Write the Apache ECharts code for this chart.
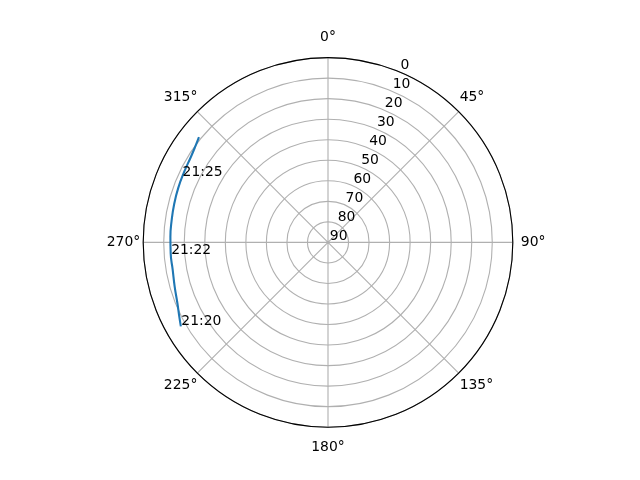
<!DOCTYPE html>
<html>
<head>
<meta charset="utf-8">
<script src="https://cdn.jsdelivr.net/npm/echarts@6/dist/echarts.min.js"></script>
<style>
html,body{margin:0;padding:0;background:#fff;}
#main{width:640px;height:480px;}
</style>
</head>
<body>
<div id="main"></div>
<script>
// satellite track: azimuth (deg, clockwise from north) and elevation (deg)
var trackAz = [240.3, 244, 248, 254, 260, 266, 272, 278, 284, 290, 296, 302, 306, 309.2];
var trackEl = [7.5, 9.3, 10.9, 12.3, 13.2, 13.2, 13.2, 13.1, 12.8, 12.4, 12.0, 11.3, 10.2, 8.9];

// time stamps written along the track
var stampTimes = ['21:20', '21:22', '21:25'];
var stampAz = [240.3, 265.3, 294];
var stampEl = [7.5, 13.1, 12.2];

var angleTicks = 45;    // degrees between spokes
var elevTicks = 10;     // degrees between rings

var FONT = 'DejaVu Sans';
var GRID = '#b0b0b0';

var trackData = [];
for (var i = 0; i < trackAz.length; i++) {
	trackData.push([trackEl[i], trackAz[i]]);
}
var stampData = [];
for (var j = 0; j < stampTimes.length; j++) {
	stampData.push({name: stampTimes[j], value: [stampEl[j], stampAz[j]]});
}

// echarts anchors the angle labels by their near edge, matplotlib by the centre:
// pad the near side so every label centre sits at the same distance
function angleLabel(v) {
	var a = Math.round(v) % 360;
	var style = {0: 'n', 45: 'ne', 90: 'e', 135: 'se', 180: 's', 225: 'sw', 270: 'w', 315: 'nw'}[a] || 'w';
	return '{' + style + '|' + a + '°}';
}
var lblBase = {color: '#000', fontSize: 13.9, fontFamily: FONT};
function lbl(pad) { return Object.assign({padding: pad}, lblBase); }

var myChart = echarts.init(document.getElementById('main'));
var option = {
	backgroundColor: '#fff',
	animation: false,
	textStyle: {fontFamily: FONT},
	polar: [
		{center: [328, 242.4], radius: 184.8},
		{center: [328, 242.4], radius: 184.8}
	],
	angleAxis: [
		{
			polarIndex: 0,
			type: 'value',
			min: 0, max: 360, interval: angleTicks,
			startAngle: 90, clockwise: true,
			axisLine: {lineStyle: {color: '#000', width: 1.1}},
			axisTick: {show: false},
			splitLine: {show: true, lineStyle: {color: GRID, width: 1.1}},
			axisLabel: {
				margin: 0,
				color: '#000', fontSize: 13.9, fontFamily: FONT,
				formatter: angleLabel,
				rich: {
					n: lbl([0, 0, 13, 0]),
					s: lbl([13, 0, 0, 0]),
					e: lbl([0, 0, 0, 8]),
					w: lbl([0, 3, 0, 0]),
					ne: lbl([0, 0, 7, 1]),
					nw: lbl([0, 0, 7, 0]),
					se: lbl([5, 0, 0, 1]),
					sw: lbl([5, 0, 0, 0])
				}
			}
		},
		{
			// only used to place the elevation labels at 22.5deg
			polarIndex: 1,
			type: 'value',
			min: 0, max: 360,
			startAngle: 67.5, clockwise: true,
			axisLine: {show: false}, axisTick: {show: false},
			splitLine: {show: false}, axisLabel: {show: false}
		}
	],
	radiusAxis: [
		{
			polarIndex: 0,
			type: 'value',
			inverse: true,
			min: 0, max: 90, interval: elevTicks,
			axisLine: {show: false}, axisTick: {show: false},
			axisLabel: {show: false},
			splitLine: {show: true, lineStyle: {color: GRID, width: 1.1}}
		},
		{
			polarIndex: 1,
			type: 'value',
			inverse: true,
			min: 0, max: 90, interval: elevTicks,
			axisLine: {show: false}, axisTick: {show: false},
			splitLine: {show: false},
			axisLabel: {
				margin: -2, align: 'left', verticalAlign: 'bottom',
				color: '#000', fontSize: 13.9, fontFamily: FONT,
				showMinLabel: true, showMaxLabel: true
			}
		}
	],
	series: [
		{
			type: 'line',
			coordinateSystem: 'polar',
			polarIndex: 0,
			data: trackData,
			smooth: true,
			showSymbol: false,
			lineStyle: {color: '#1f77b4', width: 2.1},
			z: 5
		},
		{
			type: 'scatter',
			coordinateSystem: 'polar',
			polarIndex: 0,
			data: stampData,
			symbolSize: 1,
			itemStyle: {color: 'rgba(0,0,0,0)', opacity: 1},
			label: {
				show: true, position: 'right', distance: 0, offset: [0, -5],
				color: '#000', fontSize: 13.9, fontFamily: FONT,
				formatter: '{b}'
			},
			z: 6
		}
	]
};
myChart.setOption(option);
</script>
</body>
</html>
